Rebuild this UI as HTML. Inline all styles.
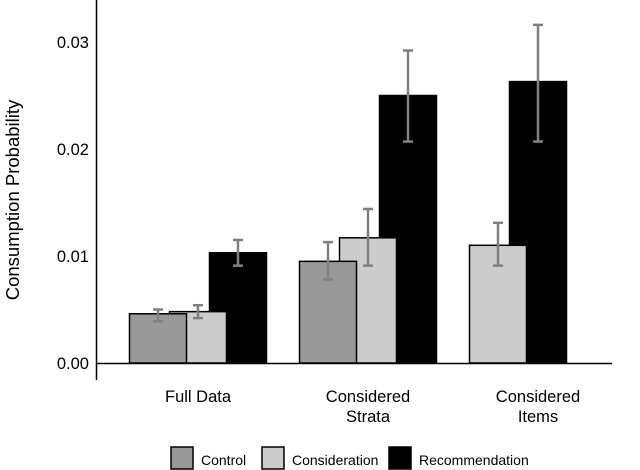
<!DOCTYPE html>
<html><head><meta charset="utf-8"><style>
html,body{margin:0;padding:0;background:#fff;width:640px;height:470px;overflow:hidden}
text{font-family:"Liberation Sans",Arial,sans-serif;fill:#000}
</style></head><body>
<svg id="chart" width="640" height="470" viewBox="0 0 640 470" xmlns="http://www.w3.org/2000/svg">
<g id="bars"></g>
<g id="axes"></g>
<g id="legend"></g>
</svg>
<script>
const categories = ["Full Data", "Considered Strata", "Considered Items"];
const series = ["Control", "Consideration", "Recommendation"];
const controlVals = [0.0046, 0.0095, null];
const controlLo = [0.0039, 0.0078, null];
const controlHi = [0.0050, 0.0113, null];
const considerationVals = [0.0048, 0.0117, 0.0110];
const considerationLo = [0.0042, 0.0091, 0.0091];
const considerationHi = [0.0054, 0.0144, 0.0131];
const recommendationVals = [0.0103, 0.0250, 0.0263];
const recommendationLo = [0.0091, 0.0207, 0.0207];
const recommendationHi = [0.0115, 0.0292, 0.0316];
const yTicks = [0, 0.01, 0.02, 0.03];
const yTickLabels = ["0.00", "0.01", "0.02", "0.03"];

const NS = "http://www.w3.org/2000/svg";
const colors = ["#999999", "#cccccc", "#000000"];
const vals = [controlVals, considerationVals, recommendationVals];
const los = [controlLo, considerationLo, recommendationLo];
const his = [controlHi, considerationHi, recommendationHi];
const y = v => 363 - v * 10700;
const xCat = i => 198 + i * 170;
const dodge = 40, bw = 57;
function mk(tag, attrs, parent){const e=document.createElementNS(NS,tag);for(const k in attrs)e.setAttribute(k,attrs[k]);parent.appendChild(e);return e;}
const gb = document.getElementById('bars');
const marks = [];
categories.forEach((c, i) => {
  const present = [0,1,2].filter(s => vals[s][i] !== null);
  present.forEach((s, k) => {
    const cx = xCat(i) + (k - 1) * dodge;
    marks.push({s, i, cx});
  });
});
marks.sort((a,b)=>b.s-a.s);
marks.forEach(m => {
  const v = vals[m.s][m.i];
  const r = mk('rect', {x: m.cx - bw/2, y: y(v), width: bw, height: y(0) - y(v), fill: colors[m.s], stroke: '#000', 'stroke-width': 1.5}, gb);
  
  
});
marks.forEach(m => {
  const g = mk('g', {stroke: '#808080', 'stroke-width': 2.5}, gb);
  
  
  const lo = y(los[m.s][m.i]), hi = y(his[m.s][m.i]);
  mk('line', {x1: m.cx, x2: m.cx, y1: lo, y2: hi}, g);
  mk('line', {x1: m.cx - 5, x2: m.cx + 5, y1: lo, y2: lo}, g);
  mk('line', {x1: m.cx - 5, x2: m.cx + 5, y1: hi, y2: hi}, g);
});
const ga = document.getElementById('axes');
const yl = mk('line', {x1: 96.5, x2: 96.5, y1: 0, y2: 380, stroke: '#000', 'stroke-width': 1.5}, ga);


const xl = mk('line', {x1: 96, x2: 612, y1: 363.5, y2: 363.5, stroke: '#000', 'stroke-width': 1.5}, ga);


yTicks.forEach((t, k) => {
  const tx = mk('text', {x: 89, y: y(t) + 6, 'text-anchor': 'end', 'font-size': 16.5}, ga);
  tx.textContent = yTickLabels[k];
  
  
});
const catLines = [["Full Data"], ["Considered", "Strata"], ["Considered", "Items"]];
categories.forEach((c, i) => {
  catLines[i].forEach((ln, j) => {
    const tx = mk('text', {x: xCat(i), y: 402 + j * 20, 'text-anchor': 'middle', 'font-size': 16.5}, ga);
    tx.textContent = ln;
    
    
  });
});
const yt = mk('text', {x: 0, y: 0, transform: 'translate(19,200) rotate(-90)', 'text-anchor': 'middle', 'font-size': 18.5}, ga);
yt.textContent = 'Consumption Probability';


const gl = document.getElementById('legend');


const lx = [171, 262, 389];
series.forEach((s, k) => {
  const g = mk('g', {}, gl);
  
  
  mk('rect', {x: lx[k], y: 447, width: 22, height: 22, fill: colors[k], stroke: '#000', 'stroke-width': 1.5}, g);
  const tx = mk('text', {x: lx[k] + 30, y: 465, 'font-size': 14}, g);
  tx.textContent = s;
});
</script>
</body></html>
